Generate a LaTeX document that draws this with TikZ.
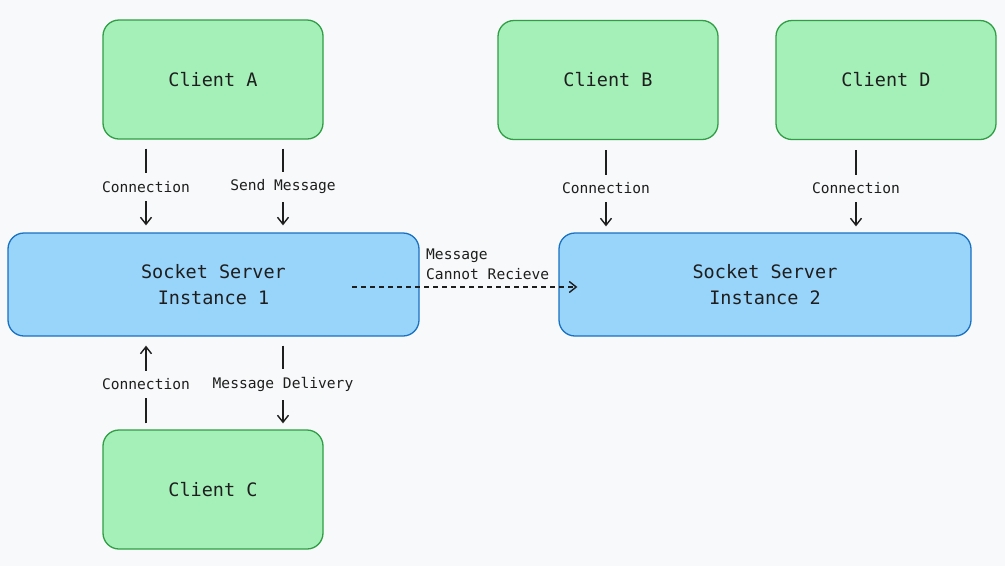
\documentclass[tikz,border=0pt]{standalone}
\usepackage{fontspec}
\newfontfamily\dmono{DejaVu Sans Mono}
\usetikzlibrary{arrows.meta}
\definecolor{bgc}{HTML}{F8F9FA}
\definecolor{gfill}{HTML}{A5F0B8}
\definecolor{gline}{HTML}{2F9E44}
\definecolor{bfill}{HTML}{99D4FA}
\definecolor{bline}{HTML}{1971C2}
\definecolor{ink}{HTML}{1E1E1E}
\tikzset{
  client/.style={draw=gline, fill=gfill, line width=1.3pt, rounded corners=16pt,
    minimum width=220pt, minimum height=119pt, font=\dmono\fontsize{18.5}{22}\selectfont, text=ink},
  server/.style={draw=bline, fill=bfill, line width=1.3pt, rounded corners=16pt,
    minimum width=411pt, minimum height=103pt, align=center,
    font=\dmono\fontsize{18.5}{26}\selectfont, text=ink},
  arr/.style={draw=ink, line width=1.6pt, -{Straight Barb[length=7pt,width=11pt,line width=1.4pt]}},
  lbl/.style={fill=bgc, text=ink, inner xsep=2pt, inner ysep=8pt,
    font=\dmono\fontsize{14.6}{20}\selectfont},
}
\begin{document}
\begin{tikzpicture}[x=1pt,y=-1pt]
\fill[bgc] (0,0) rectangle (1005,566);
\useasboundingbox (0,0) rectangle (1005,566);
\node[client] (A) at (213,79.5) {Client A};
\node[client] (B) at (608,80) {Client B};
\node[client] (D) at (886,80) {Client D};
\node[client] (C) at (213,489.5) {Client C};
\node[server] (S1) at (213.5,284.5) {Socket Server\\ Instance 1};
\node[server, minimum width=412pt] (S2) at (765,284.5) {Socket Server\\ Instance 2};

\draw[arr] ([xshift=-67pt,yshift=-9pt]A.south) -- node[lbl]{Connection} ([xshift=-67.5pt,yshift=7pt]S1.north);
\draw[arr] ([xshift=70pt,yshift=-9pt]A.south) -- node[lbl]{Send Message} ([xshift=69.5pt,yshift=7pt]S1.north);
\draw[arr] ([xshift=-2pt,yshift=-10pt]B.south) -- node[lbl]{Connection} ([xshift=-159pt,yshift=6pt]S2.north);
\draw[arr] ([xshift=-30pt,yshift=-10pt]D.south) -- node[lbl]{Connection} ([xshift=91pt,yshift=6pt]S2.north);
\draw[arr] ([xshift=-67pt,yshift=6pt]C.north) -- node[lbl]{Connection} ([xshift=-67.5pt,yshift=-9pt]S1.south);
\draw[arr] ([xshift=69.5pt,yshift=-9pt]S1.south) -- node[lbl]{Message Delivery} ([xshift=70pt,yshift=6pt]C.north);
\draw[arr, dashed, dash pattern=on 5pt off 4pt, line width=1.2pt] ([xshift=138.5pt,yshift=-2.5pt]S1.center) -- ([xshift=19pt,yshift=-2.5pt]S2.west);
\node[anchor=west, align=left, text=ink, inner sep=0pt, font=\dmono\fontsize{14.6}{20}\selectfont] (L) at (426,264) {Message\\Cannot Recieve};
\end{tikzpicture}
\end{document}
